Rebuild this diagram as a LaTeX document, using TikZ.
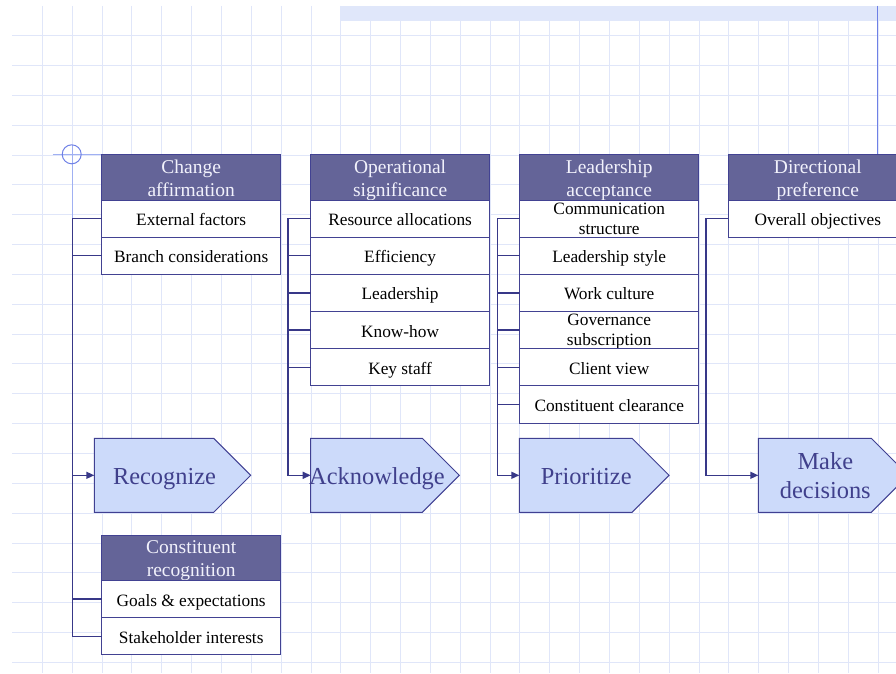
\documentclass[tikz,border=0pt]{standalone}
\usepackage{fontspec}
\setmainfont{Liberation Serif}
\usetikzlibrary{positioning,arrows.meta}

\definecolor{gridc}{RGB}{224,230,249}
\definecolor{bandc}{RGB}{224,231,250}
\definecolor{markc}{RGB}{110,128,230}
\definecolor{marklight}{RGB}{160,176,242}
\definecolor{boxline}{RGB}{66,66,146}
\definecolor{connc}{RGB}{56,56,136}
\definecolor{hdrfill}{RGB}{100,100,152}
\definecolor{hdrtext}{RGB}{242,242,252}
\definecolor{sigfill}{RGB}{204,218,250}
\definecolor{sigborder}{RGB}{64,64,146}
\definecolor{sigtext}{RGB}{64,64,140}

% one pointed step shape: invisible frame node, outline, and its caption
\newcommand\sigbox[4]{%
  \node[sigarea, minimum width=#3pt] (#1) at (#2,475.3) {};
  \draw[sigline] (#1.north west) -- ([xshift=-37pt]#1.north east) -- (#1.east)
    -- ([xshift=-37pt]#1.south east) -- (#1.south west) -- cycle;
  \node[sigtxt] (#1t) at ([xshift=-8pt]#1.center) {#4};}

% header bar of a column with its two-line title
\newcommand\header[4]{%
  \node[hdr] (#1) at (#2,#3) {};
  \node[htxt] (#1t) at (#1.center) {\strut #4\strut};}

\begin{document}
\begin{tikzpicture}[x=1pt,y=-1pt,
  gridline/.style={draw=gridc, line width=0.9pt},
  cellbase/.style={draw=boxline, line width=1pt, fill=white,
    minimum width=179pt, minimum height=37.17pt, inner sep=0pt, outer sep=0pt,
    text=black},
  cell/.style={cellbase, font=\fontsize{17.3}{20.3}\selectfont,
    text height=14pt, text depth=0pt},
  cell2/.style={cellbase, font=\fontsize{17.3}{20.3}\selectfont,
    align=center, text depth=0pt},
  hdr/.style={draw=boxline, line width=1pt, fill=hdrfill,
    minimum width=179pt, minimum height=45.3pt, inner sep=0pt, outer sep=0pt},
  htxt/.style={text=hdrtext, font=\fontsize{19.5}{23}\selectfont,
    align=center, inner sep=0pt, yshift=-3pt},
  sigarea/.style={minimum height=74pt, inner sep=0pt, outer sep=0pt},
  sigline/.style={draw=sigborder, fill=sigfill, line width=1pt, line join=miter},
  sigtxt/.style={text=sigtext, font=\fontsize{24.4}{29.3}\selectfont,
    align=center, inner sep=0pt, yshift=-3pt},
  conn/.style={draw=connc, line width=1.4pt},
  tip/.style={-{Triangle[length=8pt,width=7pt]}}]

\useasboundingbox (0,0) rectangle (896,673);
\clip (0,0) rectangle (896,673);

% background grid
\foreach \k in {0,...,28} {
  \draw[gridline] ({42.3+29.85*\k},5.7) -- ({42.3+29.85*\k},673);}
\foreach \k in {1,...,22} {
  \draw[gridline, dash pattern=on 1.2pt off 0.8pt] (12.3,{5.7+29.85*\k}) -- (896,{5.7+29.85*\k});}
\fill[bandc] (340,5.7) rectangle (896,20.7);
\draw[markc, line width=1pt] (877.7,5.7) -- (877.7,155);

% origin mark
\draw[marklight, line width=1pt] (52.7,154.3) -- (227.7,154.3);
\draw[marklight, line width=1pt] (72.3,145) -- (72.3,218);
\draw[markc, line width=1pt] (71.7,154.3) circle[radius=9.5pt];

% column headers
\header{h1}{191.2}{177.35}{Change\\affirmation}
\header{h2}{400.1}{177.35}{Operational\\significance}
\header{h3}{609.2}{177.35}{Leadership\\acceptance}
\header{h4}{817.8}{177.35}{Directional\\preference}
\header{h5}{191.2}{557.85}{Constituent\\recognition}

% column items
\node[cell, below=0pt of h1] (g1a) {External factors};
\node[cell, below=0pt of g1a] (g1b) {Branch considerations};

\node[cell, below=0pt of h2] (g2a) {Resource allocations};
\node[cell, below=0pt of g2a] (g2b) {Efficiency};
\node[cell, below=0pt of g2b] (g2c) {Leadership};
\node[cell, below=0pt of g2c] (g2d) {Know-how};
\node[cell, below=0pt of g2d] (g2e) {Key staff};

\node[cell2, below=0pt of h3] (g3a) {Communication\\structure};
\node[cell, below=0pt of g3a] (g3b) {Leadership style};
\node[cell, below=0pt of g3b] (g3c) {Work culture};
\node[cell2, below=0pt of g3c] (g3d) {Governance\\subscription};
\node[cell, below=0pt of g3d] (g3e) {Client view};
\node[cell, below=0pt of g3e] (g3f) {Constituent clearance};

\node[cell, below=0pt of h4] (g4a) {Overall objectives};

\node[cell, below=0pt of h5] (g5a) {Goals \& expectations};
\node[cell, below=0pt of g5a] (g5b) {Stakeholder interests};

% step shapes
\sigbox{rec}{172.5}{156.4}{\strut Recognize\strut}
\sigbox{ack}{385}{148.6}{\strut Acknowledge\strut}
\sigbox{pri}{594.2}{149.7}{\strut Prioritize\strut}
\sigbox{mak}{833.3}{150}{\strut Make\\decisions\strut}

% trunk positions
\coordinate (t1) at (72.3,0);
\coordinate (t2) at (288,0);
\coordinate (t3) at (497.3,0);
\coordinate (t4) at (706,0);

% tree 1
\draw[conn] (g1a.west) -- (g1a.west -| t1) -- (g5b.west -| t1) -- (g5b.west);
\draw[conn] (g1b.west) -- (g1b.west -| t1);
\draw[conn] (g5a.west) -- (g5a.west -| t1);
\draw[conn, tip] (rec.west -| t1) -- (rec.west);

% tree 2
\draw[conn, tip] (g2a.west) -- (g2a.west -| t2) -- (ack.west -| t2) -- (ack.west);
\foreach \n in {g2b,g2c,g2d,g2e} {\draw[conn] (\n.west) -- (\n.west -| t2);}

% tree 3
\draw[conn, tip] (g3a.west) -- (g3a.west -| t3) -- (pri.west -| t3) -- (pri.west);
\foreach \n in {g3b,g3c,g3d,g3e,g3f} {\draw[conn] (\n.west) -- (\n.west -| t3);}

% tree 4
\draw[conn, tip] (g4a.west) -- (g4a.west -| t4) -- (mak.west -| t4) -- (mak.west);

\end{tikzpicture}
\end{document}
